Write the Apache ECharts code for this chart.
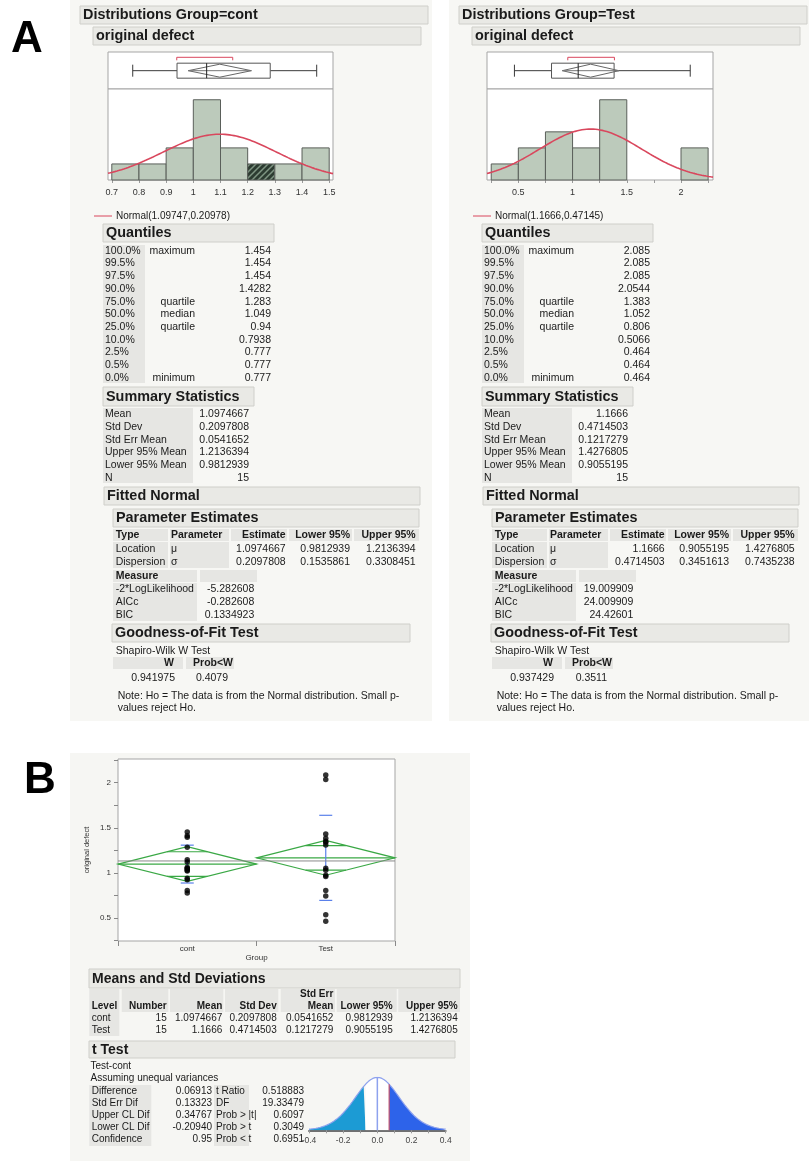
<!DOCTYPE html>
<html><head><meta charset="utf-8">
<script src="https://cdn.jsdelivr.net/npm/echarts@6/dist/echarts.min.js"></script>
<style>html,body{margin:0;padding:0;background:#fff}#c{width:809px;height:1163px}</style>
</head><body><div id="c"></div>
<script>
// ---------------- DATA ----------------
const groups = ['cont', 'Test'];
const contValues = [0.777, 0.805, 0.925, 0.94, 1.02, 1.03, 1.045, 1.049, 1.063, 1.12, 1.145, 1.283, 1.395, 1.411, 1.454];
const testValues = [0.464, 0.535, 0.745, 0.806, 0.96, 0.975, 1.03, 1.052, 1.31, 1.34, 1.35, 1.383, 1.43, 2.034, 2.085];

const contBinEdges = [0.7, 0.8, 0.9, 1.0, 1.1, 1.2, 1.3, 1.4, 1.5];
const contCounts = [1, 1, 2, 5, 2, 1, 1, 2];
const contHatchedBin = 5;
const testBinEdges = [0.25, 0.5, 0.75, 1.0, 1.25, 1.5, 1.75, 2.0, 2.25];
const testCounts = [1, 2, 3, 2, 5, 0, 0, 2];

const contAxisTicks = [0.7, 0.8, 0.9, 1.0, 1.1, 1.2, 1.3, 1.4, 1.5];
const contAxisLabels = [0.7, 0.8, 0.9, 1.0, 1.1, 1.2, 1.3, 1.4, 1.5];
const testAxisTicks = [0.25, 0.5, 0.75, 1.0, 1.25, 1.5, 1.75, 2.0, 2.25];
const testAxisLabels = [0.5, 1, 1.5, 2];

// min, q1, median, q3, max
const contBox = [0.777, 0.94, 1.049, 1.283, 1.454];
const testBox = [0.464, 0.806, 1.052, 1.383, 2.085];
// lower 95%, mean, upper 95%
const contMeanCI = [0.9812939, 1.0974667, 1.2136394];
const testMeanCI = [0.9055195, 1.1666, 1.4276805];
const contShortestHalf = [0.939, 1.145];
const testShortestHalf = [0.956, 1.386];
// Normal(mu, sigma)
const contNormal = [1.09747, 0.20978];
const testNormal = [1.1666, 0.47145];

const quantilePcts = ['100.0%', '99.5%', '97.5%', '90.0%', '75.0%', '50.0%', '25.0%', '10.0%', '2.5%', '0.5%', '0.0%'];
const quantileNames = ['maximum', '', '', '', 'quartile', 'median', 'quartile', '', '', '', 'minimum'];
const contQuantiles = ['1.454', '1.454', '1.454', '1.4282', '1.283', '1.049', '0.94', '0.7938', '0.777', '0.777', '0.777'];
const testQuantiles = ['2.085', '2.085', '2.085', '2.0544', '1.383', '1.052', '0.806', '0.5066', '0.464', '0.464', '0.464'];

const summaryLabels = ['Mean', 'Std Dev', 'Std Err Mean', 'Upper 95% Mean', 'Lower 95% Mean', 'N'];
const contSummary = ['1.0974667', '0.2097808', '0.0541652', '1.2136394', '0.9812939', '15'];
const testSummary = ['1.1666', '0.4714503', '0.1217279', '1.4276805', '0.9055195', '15'];

const paramHeaders = ['Type', 'Parameter', 'Estimate', 'Lower 95%', 'Upper 95%'];
const contParams = [['Location', 'μ', '1.0974667', '0.9812939', '1.2136394'], ['Dispersion', 'σ', '0.2097808', '0.1535861', '0.3308451']];
const testParams = [['Location', 'μ', '1.1666', '0.9055195', '1.4276805'], ['Dispersion', 'σ', '0.4714503', '0.3451613', '0.7435238']];
const measureLabels = ['-2*LogLikelihood', 'AICc', 'BIC'];
const contMeasures = ['-5.282608', '-0.282608', '0.1334923'];
const testMeasures = ['19.009909', '24.009909', '24.42601'];
const contShapiro = ['0.941975', '0.4079'];
const testShapiro = ['0.937429', '0.3511'];

// Panel B (oneway)
const groupMeans = [1.0974667, 1.1666];
const groupStdDev = [0.2097808, 0.4714503];
const groupStdErr = [0.0541652, 0.1217279];
const diamondLo = [0.905, 0.974];
const diamondHi = [1.290, 1.359];
const overlapLo = [0.961, 1.030];
const overlapHi = [1.234, 1.303];
const grandMean = 1.132;
const onewayLabelValues = [0.5, 1, 1.5, 2];
const onewayTickValues = [0.25, 0.5, 0.75, 1, 1.25, 1.5, 1.75, 2, 2.25];

const meansHeaders = ['Level', 'Number', 'Mean', 'Std Dev', 'Std Err Mean', 'Lower 95%', 'Upper 95%'];
const meansRows = [
  ['cont', '15', '1.0974667', '0.2097808', '0.0541652', '0.9812939', '1.2136394'],
  ['Test', '15', '1.1666', '0.4714503', '0.1217279', '0.9055195', '1.4276805']
];
const tTestLabels1 = ['Difference', 'Std Err Dif', 'Upper CL Dif', 'Lower CL Dif', 'Confidence'];
const tTestValues1 = ['0.06913', '0.13323', '0.34767', '-0.20940', '0.95'];
const tTestLabels2 = ['t Ratio', 'DF', 'Prob > |t|', 'Prob > t', 'Prob < t'];
const tTestValues2 = ['0.518883', '19.33479', '0.6097', '0.3049', '0.6951'];
const tDiff = 0.06913, tSE = 0.13323, tDF = 19.33479;
const tPlotLabels = [-0.4, -0.2, 0.0, 0.2, 0.4];
const tPlotTicks = [-0.4, -0.3, -0.2, -0.1, 0, 0.1, 0.2, 0.3, 0.4];

// ---------------- HELPERS ----------------
const FONT = '"Liberation Sans", Arial, Helvetica, sans-serif';
const G = [];
function rect(x, y, w, h, fill, stroke, z) {
  G.push({type: 'rect', z: z == null ? 1 : z, silent: true, shape: {x, y, width: w, height: h},
    style: {fill: fill, stroke: stroke || null, lineWidth: stroke ? 1 : 0}});
}
function txt(x, y, s, o) {
  o = o || {};
  G.push({type: 'text', z: 20, silent: true, x: x, y: y, rotation: o.rot || 0,
    style: {text: String(s), font: (o.bold ? 'bold ' : '') + (o.size || 10.5) + 'px ' + FONT,
      fill: o.color || '#1a1a1a', textAlign: o.align || 'left', textVerticalAlign: 'middle',
      align: o.align || 'left', verticalAlign: 'middle'}});
}
function seg(x1, y1, x2, y2, color, w) {
  G.push({type: 'line', z: 20, silent: true, shape: {x1, y1, x2, y2}, style: {stroke: color, lineWidth: w || 1}});
}
function header(x, y, w, h, s, size) {
  rect(x, y, w, h, '#e9e9e5', '#cfcfca', 2);
  txt(x + 3, y + h / 2 + 0.5, s, {bold: true, size: size || 14.4});
}
function normPdf(x, m, s) { return Math.exp(-0.5 * ((x - m) / s) ** 2) / (s * Math.sqrt(2 * Math.PI)); }
function lgamma(z) {
  const c = [0.99999999999980993, 676.5203681218851, -1259.1392167224028, 771.32342877765313, -176.61502916214059,
    12.507343278686905, -0.13857109526572012, 9.9843695780195716e-6, 1.5056327351493116e-7];
  z -= 1; let x = c[0];
  for (let i = 1; i < 9; i++) x += c[i] / (z + i);
  const t = z + 7.5;
  return 0.5 * Math.log(2 * Math.PI) + (z + 0.5) * Math.log(t) - t + Math.log(x);
}
function tPdf(t, v) {
  return Math.exp(lgamma((v + 1) / 2) - lgamma(v / 2)) / Math.sqrt(v * Math.PI) * Math.pow(1 + t * t / v, -(v + 1) / 2);
}

// hatch pattern
const pc = document.createElement('canvas'); pc.width = 6; pc.height = 6;
const pctx = pc.getContext('2d');
pctx.fillStyle = '#2c3b31'; pctx.fillRect(0, 0, 6, 6);
pctx.strokeStyle = '#7f9583'; pctx.lineWidth = 1.5; pctx.beginPath();
pctx.moveTo(-1, 7); pctx.lineTo(7, -1); pctx.moveTo(-4, 4); pctx.lineTo(4, -4); pctx.moveTo(2, 10); pctx.lineTo(10, 2);
pctx.stroke();
const hatch = {image: pc, repeat: 'repeat'};

// ---------------- BACKGROUNDS / TEXT ----------------
rect(70, 0, 362, 721, '#f7f7f4', null, -1);
rect(449, 0, 360, 721, '#f7f7f4', null, -1);
rect(70, 753, 400, 408, '#f6f6f3', null, -1);
txt(27, 40, 'A', {bold: true, size: 44, align: 'center', color: '#000'});
txt(40, 781, 'B', {bold: true, size: 44, align: 'center', color: '#000'});

function panelA(dx, name, normal, quants, summ, params, meas, shap) {
  header(80 + dx, 6, 348, 18, 'Distributions Group=' + name);
  header(93 + dx, 27, 328, 18, 'original defect');
  // legend
  seg(94 + dx, 216, 112 + dx, 216, '#d9475d', 1);
  txt(116 + dx, 216, 'Normal(' + normal[0] + ',' + normal[1] + ')', {size: 10});
  // quantiles
  header(103 + dx, 224, 171, 18, 'Quantiles');
  rect(103 + dx, 245, 42, 138, '#e6e6e3', null, 1);
  quantilePcts.forEach((p, i) => {
    const y = 250.7 + i * 12.73;
    txt(105 + dx, y, p);
    if (quantileNames[i]) txt(195 + dx, y, quantileNames[i], {align: 'right'});
    txt(271 + dx, y, quants[i], {align: 'right'});
  });
  // summary
  header(103 + dx, 387, 151, 19, 'Summary Statistics');
  rect(103 + dx, 408, 90, 75, '#e6e6e3', null, 1);
  summaryLabels.forEach((l, i) => {
    const y = 414.3 + i * 12.67;
    txt(105 + dx, y, l);
    txt(249 + dx, y, summ[i], {align: 'right'});
  });
  // fitted normal
  header(104 + dx, 487, 316, 18, 'Fitted Normal');
  header(113 + dx, 509, 306, 18, 'Parameter Estimates');
  const hx = [[113, 168], [170, 229], [231, 287], [289, 352], [354, 419]];
  hx.forEach(h => rect(h[0] + dx, 529, h[1] - h[0], 12, '#e6e6e3', null, 1));
  rect(113 + dx, 542, 55, 26, '#e6e6e3', null, 1);
  rect(170 + dx, 542, 59, 26, '#e6e6e3', null, 1);
  const colX = [115.7, 171, 285.7, 350, 415.7];
  const colA = ['left', 'left', 'right', 'right', 'right'];
  paramHeaders.forEach((h, j) => txt(colX[j] + dx, 535.3, h, {bold: true, align: colA[j]}));
  params.forEach((r, i) => r.forEach((v, j) => txt(colX[j] + dx, 549.3 + i * 12.7, v, {align: colA[j]})));
  rect(113 + dx, 570, 84, 12, '#e6e6e3', null, 1);
  rect(200 + dx, 570, 57, 12, '#e6e6e3', null, 1);
  txt(115.7 + dx, 575.7, 'Measure', {bold: true});
  rect(113 + dx, 583, 84, 38, '#e6e6e3', null, 1);
  measureLabels.forEach((l, i) => {
    const y = 589.3 + i * 12.7;
    txt(115.7 + dx, y, l);
    txt(254.3 + dx, y, meas[i], {align: 'right'});
  });
  header(112 + dx, 624, 298, 18, 'Goodness-of-Fit Test');
  txt(115.7 + dx, 651, 'Shapiro-Wilk W Test');
  rect(113 + dx, 657, 70, 12, '#e6e6e3', null, 1);
  rect(186 + dx, 657, 48, 12, '#e6e6e3', null, 1);
  txt(174 + dx, 663.3, 'W', {bold: true, align: 'right'});
  txt(233 + dx, 663.3, 'Prob<W', {bold: true, align: 'right'});
  txt(175 + dx, 678.3, shap[0], {align: 'right'});
  txt(228 + dx, 678.3, shap[1], {align: 'right'});
  txt(117.7 + dx, 696, 'Note: Ho = The data is from the Normal distribution. Small p-');
  txt(117.7 + dx, 708, 'values reject Ho.');
}
panelA(0, groups[0], contNormal, contQuantiles, contSummary, contParams, contMeasures, contShapiro);
panelA(379, groups[1], testNormal, testQuantiles, testSummary, testParams, testMeasures, testShapiro);

// Panel B tables
header(89, 969, 371, 19, 'Means and Std Deviations', 14);
const mCells = [[89.3, 119.3], [121.7, 168.3], [170, 223.3], [225, 278.3], [280.7, 335], [336.7, 396.7], [398.3, 460]];
mCells.forEach(c => rect(c[0], 989, c[1] - c[0], 23, '#e6e6e3', null, 1));
rect(89.3, 1012, 30, 24, '#e6e6e3', null, 1);
const mX = [91.7, 166.7, 222.3, 276.7, 333.3, 392.7, 457.7];
meansHeaders.forEach((h, j) => {
  if (h === 'Std Err Mean') { txt(mX[j], 994.5, 'Std Err', {bold: true, size: 10, align: 'right'}); txt(mX[j], 1006, 'Mean', {bold: true, size: 10, align: 'right'}); }
  else txt(mX[j], 1006, h, {bold: true, size: 10, align: j === 0 ? 'left' : 'right'});
});
meansRows.forEach((r, i) => r.forEach((v, j) => txt(mX[j], 1018 + i * 12, v, {size: 10, align: j === 0 ? 'left' : 'right'})));
header(89, 1041, 366, 17, 't Test', 14);
txt(90.5, 1066, 'Test-cont', {size: 10});
txt(90.5, 1078.5, 'Assuming unequal variances', {size: 10});
rect(89.3, 1085, 62, 61, '#e6e6e3', null, 1);
rect(214, 1085, 35, 61, '#e6e6e3', null, 1);
tTestLabels1.forEach((l, i) => {
  const y = 1091 + i * 12.1;
  txt(91.7, y, l, {size: 10});
  txt(212, y, tTestValues1[i], {size: 10, align: 'right'});
  txt(216, y, tTestLabels2[i], {size: 10});
  txt(304, y, tTestValues2[i], {size: 10, align: 'right'});
});

// ---------------- SERIES DATA ----------------
function bins(edges, counts, hatched) {
  return counts.map((c, i) => [edges[i], edges[i + 1], c, i === hatched ? 1 : 0]);
}
function normalCurve(xmin, xmax, nrm, n, bw) {
  const out = [];
  for (let i = 0; i <= 200; i++) { const x = xmin + (xmax - xmin) * i / 200; out.push([x, n * bw * normPdf(x, nrm[0], nrm[1])]); }
  return out;
}
const X0c = 0.686, X1c = 1.514, X0t = 0.211, X1t = 2.295;
const histRender = (params, api) => {
  const c = api.value(2);
  if (!c) return null;
  const p0 = api.coord([api.value(0), 0]), p1 = api.coord([api.value(1), c]);
  return {type: 'rect', shape: {x: p0[0], y: p1[1], width: p1[0] - p0[0], height: p0[1] - p1[1]},
    style: {fill: api.value(3) ? hatch : '#bccabb', stroke: '#5a5f5a', lineWidth: 1}};
};
const boxRender = (params, api) => {
  const cs = params.coordSys; const cy = cs.y + cs.height * 0.505;
  const X = k => api.coord([api.value(k), 0])[0];
  const by = cs.y + 5.3, st = '#3a3a3a';
  const L = (x1, y1, x2, y2, col) => ({type: 'line', shape: {x1, y1, x2, y2}, style: {stroke: col || st, lineWidth: 1}});
  return {type: 'group', children: [
    L(X(0), cy, X(1), cy), L(X(3), cy, X(4), cy),
    L(X(0), cy - 6, X(0), cy + 6), L(X(4), cy - 6, X(4), cy + 6),
    {type: 'rect', shape: {x: X(1), y: cy - 7.5, width: X(3) - X(1), height: 15}, style: {fill: '#fff', stroke: '#555', lineWidth: 1}},
    {type: 'polygon', shape: {points: [[X(5), cy], [X(6), cy - 6.5], [X(7), cy], [X(6), cy + 6.5]]}, style: {fill: 'none', stroke: '#666', lineWidth: 1}},
    L(X(5), cy, X(7), cy, '#777'),
    L(X(2), cy - 7.5, X(2), cy + 7.5, '#222'),
    {type: 'polyline', shape: {points: [[X(8), by + 3], [X(8), by], [X(9), by], [X(9), by + 3]]}, style: {fill: 'none', stroke: '#d9475d', lineWidth: 1}}
  ]};
};
const diamondRender = (params, api) => {
  const i = api.value(0);
  const P = (x, y) => api.coord([x, y]);
  const mu = api.value(1), lo = api.value(2), hi = api.value(3), ol = api.value(4), oh = api.value(5);
  const c = i + 0.5, l = i, r = i + 1;
  const f1 = (oh - mu) / (hi - mu), f2 = (mu - ol) / (mu - lo);
  const gr = '#3aa845';
  const L = (a, b) => ({type: 'line', shape: {x1: a[0], y1: a[1], x2: b[0], y2: b[1]}, style: {stroke: gr, lineWidth: 1.2}});
  return {type: 'group', children: [
    {type: 'polygon', shape: {points: [P(l, mu), P(c, hi), P(r, mu), P(c, lo)]}, style: {fill: 'none', stroke: gr, lineWidth: 1.2}},
    L(P(l, mu), P(r, mu)),
    L(P(c - (1 - f1) * 0.5, oh), P(c + (1 - f1) * 0.5, oh)),
    L(P(c - (1 - f2) * 0.5, ol), P(c + (1 - f2) * 0.5, ol))
  ]};
};
const blueRender = (params, api) => {
  const i = api.value(0), mu = api.value(1), sd = api.value(2), se = api.value(3);
  const P = y => api.coord([i + 0.5, y]);
  const bl = '#5a80ea';
  const H = y => { const p = P(y); return {type: 'line', shape: {x1: p[0] - 6.5, y1: p[1], x2: p[0] + 6.5, y2: p[1]}, style: {stroke: bl, lineWidth: 1.2}}; };
  const a = P(mu - se), b = P(mu + se);
  return {type: 'group', children: [H(mu - sd), H(mu + sd),
    {type: 'line', shape: {x1: a[0], y1: a[1], x2: b[0], y2: b[1]}, style: {stroke: bl, lineWidth: 1.2}}]};
};

// t plot curves
function tCurve(a, b) {
  const out = []; const n = 120;
  for (let i = 0; i <= n; i++) { const x = a + (b - a) * i / n; out.push([x, tPdf(x / tSE, tDF) / tSE]); }
  return out;
}
const tPeak = tPdf(0, tDF) / tSE;

// ---------------- CHART ----------------
const axisLbl = {color: '#333', fontSize: 9, fontFamily: FONT};
const grids = [
  {left: 108, top: 52, width: 225, height: 37},
  {left: 108, top: 89, width: 225, height: 91},
  {left: 487, top: 52, width: 226, height: 37},
  {left: 487, top: 89, width: 226, height: 91},
  {left: 118, top: 759, width: 277, height: 182},
  {left: 309, top: 1077.3, width: 136.7, height: 53, show: false}
].map((g, i) => Object.assign({show: true, backgroundColor: '#fff', borderColor: '#a5a5a5', borderWidth: 1, containLabel: false, outerBoundsMode: 'none'}, g));

function histX(grid, min, max, ticks, labels, show) {
  return {type: 'value', gridIndex: grid, min, max, show: show,
    axisLine: {show: false}, splitLine: {show: false},
    axisTick: {show: true, length: 3, lineStyle: {color: '#999'}, customValues: ticks},
    axisLabel: {show: true, ...axisLbl, margin: 8, customValues: labels, formatter: v => String(+v.toFixed(2))}};
}
const option = {
  animation: false,
  backgroundColor: '#fff',
  graphic: {elements: G},
  grid: grids,
  xAxis: [
    {type: 'value', gridIndex: 0, min: X0c, max: X1c, show: false},
    histX(1, X0c, X1c, contAxisTicks, contAxisLabels, true),
    {type: 'value', gridIndex: 2, min: X0t, max: X1t, show: false},
    histX(3, X0t, X1t, testAxisTicks, testAxisLabels, true),
    {type: 'value', gridIndex: 4, min: 0, max: 2, splitLine: {show: false}, axisLine: {show: false},
      axisTick: {show: true, length: 5, inside: false, lineStyle: {color: '#888'}, customValues: [0, 1, 2]},
      axisLabel: {color: '#333', fontSize: 8, fontFamily: FONT, margin: 4, customValues: [0.5, 1.5], formatter: v => groups[Math.round(v - 0.5)]},
      name: 'Group', nameLocation: 'middle', nameGap: 13, nameTextStyle: {color: '#333', fontSize: 8, fontFamily: FONT}},
    {type: 'value', gridIndex: 5, min: -0.4, max: 0.4, splitLine: {show: false},
      axisLine: {show: true, onZero: false, lineStyle: {color: '#707070', width: 2}},
      axisTick: {show: true, length: 3, lineStyle: {color: '#999'}, customValues: tPlotTicks},
      axisLabel: {color: '#444', fontSize: 8.5, fontFamily: FONT, margin: 6, customValues: tPlotLabels, formatter: v => v.toFixed(1)}}
  ],
  yAxis: [
    {type: 'value', gridIndex: 0, min: 0, max: 1, show: false},
    {type: 'value', gridIndex: 1, min: 0, max: 5.67, show: false},
    {type: 'value', gridIndex: 2, min: 0, max: 1, show: false},
    {type: 'value', gridIndex: 3, min: 0, max: 5.67, show: false},
    {type: 'value', gridIndex: 4, min: 0.245, max: 2.262, splitLine: {show: false}, axisLine: {show: false},
      axisTick: {show: true, length: 4, lineStyle: {color: '#888'}, customValues: onewayTickValues},
      axisLabel: {color: '#333', fontSize: 8, fontFamily: FONT, margin: 7, customValues: onewayLabelValues, formatter: v => String(v)},
      name: 'original defect', nameLocation: 'middle', nameGap: 27, nameRotate: 90, nameTextStyle: {color: '#333', fontSize: 7.5, fontFamily: FONT}},
    {type: 'value', gridIndex: 5, min: 0, max: tPeak, show: false}
  ],
  series: [
    {type: 'custom', xAxisIndex: 1, yAxisIndex: 1, renderItem: histRender, data: bins(contBinEdges, contCounts, contHatchedBin), silent: true},
    {type: 'line', xAxisIndex: 1, yAxisIndex: 1, showSymbol: false, data: normalCurve(X0c, X1c, contNormal, contValues.length, contBinEdges[1] - contBinEdges[0]), lineStyle: {color: '#d9475d', width: 1.6}, z: 5, silent: true},
    {type: 'custom', xAxisIndex: 0, yAxisIndex: 0, renderItem: boxRender, data: [contBox.concat(contMeanCI, contShortestHalf)], silent: true},
    {type: 'custom', xAxisIndex: 3, yAxisIndex: 3, renderItem: histRender, data: bins(testBinEdges, testCounts, -1), silent: true},
    {type: 'line', xAxisIndex: 3, yAxisIndex: 3, showSymbol: false, data: normalCurve(X0t, X1t, testNormal, testValues.length, testBinEdges[1] - testBinEdges[0]), lineStyle: {color: '#d9475d', width: 1.6}, z: 5, silent: true},
    {type: 'custom', xAxisIndex: 2, yAxisIndex: 2, renderItem: boxRender, data: [testBox.concat(testMeanCI, testShortestHalf)], silent: true},
    // oneway
    {type: 'line', xAxisIndex: 4, yAxisIndex: 4, showSymbol: false, data: [[0, grandMean], [2, grandMean]], lineStyle: {color: '#8a8a8a', width: 1}, silent: true},
    {type: 'custom', xAxisIndex: 4, yAxisIndex: 4, renderItem: diamondRender, silent: true,
      data: groups.map((g, i) => [i, groupMeans[i], diamondLo[i], diamondHi[i], overlapLo[i], overlapHi[i]])},
    {type: 'custom', xAxisIndex: 4, yAxisIndex: 4, renderItem: blueRender, silent: true, z: 3,
      data: groups.map((g, i) => [i, groupMeans[i], groupStdDev[i], groupStdErr[i]])},
    {type: 'scatter', xAxisIndex: 4, yAxisIndex: 4, symbolSize: 5.5, itemStyle: {color: '#000'}, z: 4, silent: true, data: contValues.map(v => [0.5, v])},
    {type: 'scatter', xAxisIndex: 4, yAxisIndex: 4, symbolSize: 5.5, itemStyle: {color: '#000'}, z: 4, silent: true, data: testValues.map(v => [1.5, v])},
    // t plot
    {type: 'line', xAxisIndex: 5, yAxisIndex: 5, showSymbol: false, data: tCurve(-0.4, -tDiff), lineStyle: {width: 0}, areaStyle: {color: '#1c9bd4', opacity: 1, origin: 'start'}, silent: true},
    {type: 'line', xAxisIndex: 5, yAxisIndex: 5, showSymbol: false, data: tCurve(-tDiff, tDiff), lineStyle: {width: 0}, areaStyle: {color: '#ffffff', opacity: 1, origin: 'start'}, silent: true},
    {type: 'line', xAxisIndex: 5, yAxisIndex: 5, showSymbol: false, data: tCurve(tDiff, 0.4), lineStyle: {width: 0}, areaStyle: {color: '#2d63ea', opacity: 1, origin: 'start'}, silent: true},
    {type: 'line', xAxisIndex: 5, yAxisIndex: 5, showSymbol: false, data: tCurve(-0.4, 0.4), lineStyle: {color: '#8ea2ee', width: 1.2}, z: 4, silent: true},
    {type: 'line', xAxisIndex: 5, yAxisIndex: 5, showSymbol: false, data: [[0, 0], [0, tPeak]], lineStyle: {color: '#8ea2ee', width: 1.5}, z: 4, silent: true},
    {type: 'line', xAxisIndex: 5, yAxisIndex: 5, showSymbol: false, data: [[tDiff, 0], [tDiff, tPdf(tDiff / tSE, tDF) / tSE]], lineStyle: {color: '#c2506a', width: 1.2}, z: 4, silent: true}
  ]
};
const chart = echarts.init(document.getElementById('c'), null, {renderer: 'canvas', width: 809, height: 1163});
chart.setOption(option);
</script>
</body></html>
